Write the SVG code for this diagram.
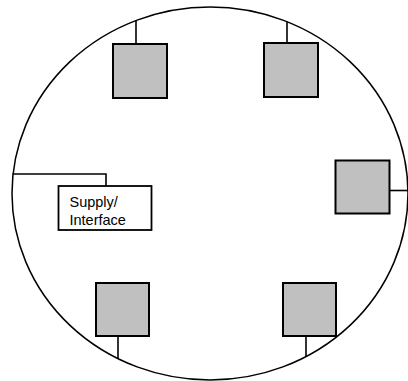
<svg xmlns="http://www.w3.org/2000/svg" width="408" height="381" viewBox="0 0 408 381">
<style>
.ring{fill:#fff;stroke:#000;stroke-width:1.5}
.unit{fill:#c0c0c0;stroke:#000;stroke-width:2}
.sup{fill:#fff;stroke:#000;stroke-width:1.8}
.wire{stroke:#000;stroke-width:1.6;fill:none}
.lbl{font-family:"Liberation Sans",Arial,sans-serif;font-size:14.5px;fill:#000}
</style>
<rect width="408" height="381" fill="#fff"/>
<ellipse class="ring" cx="210" cy="193.5" rx="198" ry="186.5"/>
<g id="connectors">
<line class="wire" x1="136" y1="20.5" x2="136" y2="44"/>
<line class="wire" x1="287" y1="21.5" x2="287" y2="43"/>
<line class="wire" x1="390" y1="190.5" x2="409" y2="190.5"/>
<line class="wire" x1="118" y1="336" x2="118" y2="358.5"/>
<line class="wire" x1="306" y1="336" x2="306" y2="356.5"/>
<polyline class="wire" points="12.5,174 106,174 106,186"/>
</g>
<g id="node-top-left"><rect class="unit" x="113" y="44" width="54" height="54"/></g>
<g id="node-top-right"><rect class="unit" x="264" y="43" width="54" height="54"/></g>
<g id="node-right"><rect class="unit" x="335.5" y="160.5" width="54" height="53"/></g>
<g id="node-bottom-left"><rect class="unit" x="96" y="283" width="53" height="53"/></g>
<g id="node-bottom-right"><rect class="unit" x="283" y="283" width="53" height="53"/></g>
<g id="node-supply">
<rect class="sup" x="58.5" y="186" width="93" height="44"/>
<text class="lbl" x="69.5" y="206.5">Supply/</text>
<text class="lbl" x="69.5" y="224.5">Interface</text>
</g>
</svg>
